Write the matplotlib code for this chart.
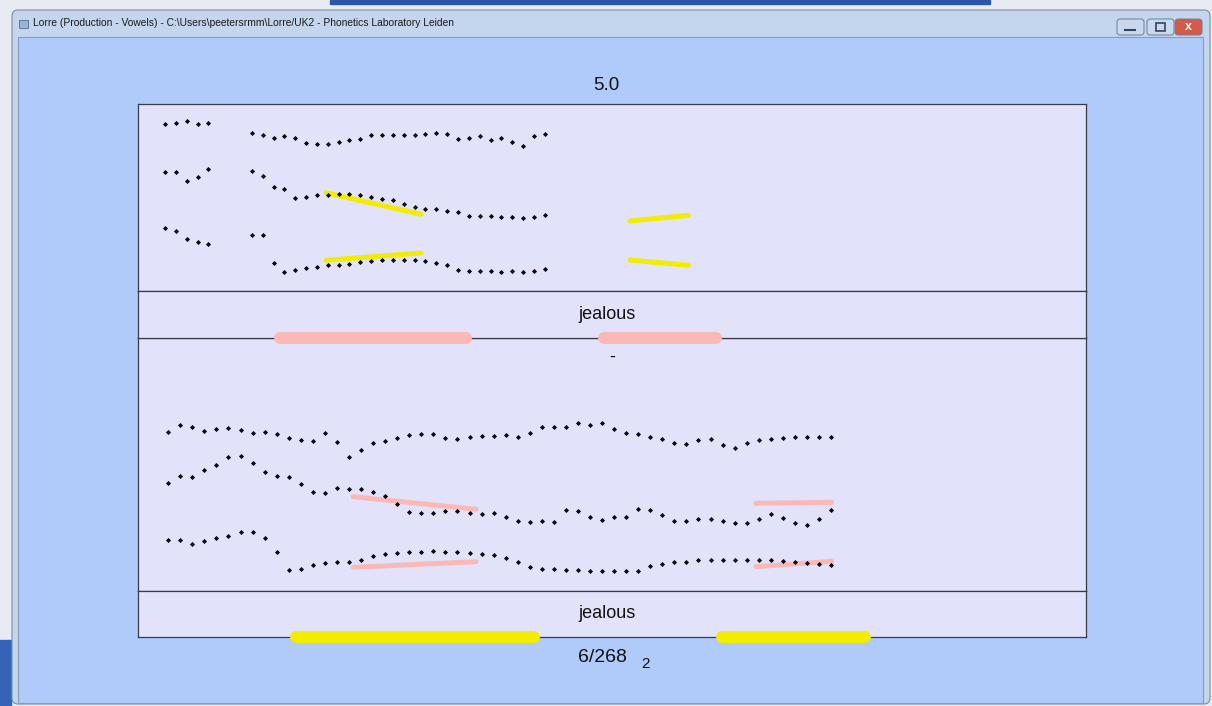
import numpy as np
import matplotlib.pyplot as plt
from matplotlib.patches import Rectangle, FancyBboxPatch

plt.rcParams['font.family'] = ['Liberation Sans', 'DejaVu Sans']

W, H = 1212, 706

# ---- formant tracks, upper panel (frame index, height in panel units) ----
top_frames = [0, 1, 2, 3, 4] + list(range(8, 36))
top_f3 = [166.7, 168.0, 169.7, 166.7, 168.0,
          158.3, 156.0, 153.3, 155.0, 153.3, 147.7, 147.0, 147.0, 149.0, 150.7,
          152.3, 155.7, 155.7, 155.7, 155.7, 156.3, 157.3, 158.3, 157.3, 152.3,
          153.3, 155.0, 150.7, 153.0, 149.3, 145.0, 155.0, 156.7]
top_f2 = [119.0, 119.0, 110.0, 114.3, 122.0,
          120.3, 115.0, 103.7, 101.7, 92.7, 93.7, 95.7, 96.0, 97.0, 96.7,
          95.7, 94.0, 92.0, 90.7, 86.7, 84.3, 82.3, 81.7, 79.7, 79.0,
          75.3, 75.0, 75.0, 74.3, 74.3, 73.3, 74.3, 75.7]
top_f1 = [62.7, 59.7, 51.7, 48.7, 47.0,
          56.0, 56.0, 28.0, 18.7, 20.7, 22.7, 24.3, 25.7, 26.3, 27.0,
          28.7, 29.7, 30.7, 31.3, 31.3, 31.3, 30.3, 28.3, 25.7, 20.7,
          20.0, 20.0, 20.0, 19.0, 20.0, 19.0, 20.0, 21.7]

# target segments (x0, x1, y0, y1)
top_targets = [(14.84, 23.6, 98.3, 76.7), (14.84, 23.6, 30.7, 38.0),
               (42.86, 48.23, 70.0, 75.7), (42.86, 48.23, 31.0, 25.7)]
top_intervals = [(10.6, 27.7), (40.5, 50.75)]

# ---- formant tracks, lower panel ----
bot_frames = list(range(56))
bot_f3 = [159.0, 166.0, 163.7, 160.0, 161.7, 162.7, 161.0, 158.3, 159.3, 156.7,
          153.0, 151.0, 150.3, 158.3, 149.3, 133.7, 140.7, 148.0, 150.3, 153.0,
          156.0, 156.7, 157.3, 153.0, 152.3, 154.0, 155.0, 155.0, 155.7, 154.0,
          158.3, 163.7, 163.7, 163.7, 168.0, 166.3, 168.0, 162.0, 158.3, 156.7,
          153.7, 152.0, 147.7, 147.0, 151.3, 152.0, 146.0, 143.3, 147.7, 150.7,
          152.3, 153.0, 154.0, 154.0, 154.0, 154.0]
bot_f2 = [108.0, 115.0, 114.0, 121.0, 126.3, 134.3, 135.3, 128.3, 118.7, 115.0,
          114.0, 107.0, 99.0, 98.0, 102.7, 101.7, 101.7, 99.0, 94.7, 86.7,
          78.7, 77.7, 77.7, 79.7, 79.7, 77.7, 77.0, 77.7, 74.3, 70.0,
          69.0, 70.0, 69.0, 80.7, 79.7, 73.7, 71.0, 73.7, 73.7, 81.7,
          80.7, 76.0, 70.0, 70.0, 72.0, 72.0, 70.0, 68.0, 68.0, 72.0,
          77.3, 72.7, 68.0, 66.0, 72.0, 80.7]
bot_f1 = [50.7, 50.7, 47.0, 49.7, 53.3, 55.0, 58.7, 58.7, 53.3, 39.0,
          21.3, 22.3, 26.0, 27.7, 28.7, 29.3, 31.3, 35.0, 36.7, 38.3,
          39.0, 39.0, 40.0, 39.0, 39.0, 38.3, 37.3, 35.7, 33.0, 28.7,
          24.3, 22.3, 22.3, 21.0, 21.0, 20.3, 19.7, 19.7, 19.7, 20.3,
          25.0, 27.0, 28.7, 29.3, 31.3, 31.3, 31.3, 31.3, 31.3, 31.3,
          31.3, 30.3, 29.3, 28.0, 27.0, 26.0]

bot_targets = [(15.35, 25.54, 94.3, 81.7), (15.35, 25.54, 23.7, 29.3),
               (48.77, 55.05, 87.7, 88.7), (48.77, 55.05, 24.3, 29.7)]
bot_intervals = [(10.6, 30.35), (45.95, 57.8)]

word = "jealous"

SCREEN = '#B0CAFA'
PANEL = '#E2E2FB'
EDGE = '#3A3A48'
YELLOW = '#F2EC00'
PINK = '#FBB9B6'


def px_axes(fig, x0, y0, x1, y1):
    return fig.add_axes([x0 / W, 1 - y1 / H, (x1 - x0) / W, (y1 - y0) / H])


def style(ax, xlim, ylim):
    ax.set_facecolor(PANEL)
    ax.set_xlim(*xlim)
    ax.set_ylim(*ylim)
    ax.set_xticks([])
    ax.set_yticks([])
    for s in ax.spines.values():
        s.set_color(EDGE)
        s.set_linewidth(0.9)


def dots(ax, frames, track):
    ax.plot(frames, track, ls='none', marker='D', ms=2.6, color='#0A0A14', mew=0)


fig = plt.figure(figsize=(W / 100, H / 100), dpi=100)

# window chrome
bg = fig.add_axes([0, 0, 1, 1])
bg.set_xlim(0, W)
bg.set_ylim(H, 0)
bg.axis('off')
bg.add_patch(Rectangle((0, 0), W, H, color='#E8ECF2'))
bg.add_patch(Rectangle((330, 0), 660, 4, color='#2E56A8'))
bg.add_patch(Rectangle((0, 640), 11, 66, color='#3563B5'))
bg.add_patch(FancyBboxPatch((12, 10), 1198, 694, boxstyle='round,pad=0,rounding_size=6',
                            fc='#C3D6EE', ec='#7C8FA8', lw=0.8))
bg.add_patch(Rectangle((18, 37), 1185, 666, fc=SCREEN, ec='#8A9BB5', lw=0.8))
bg.add_patch(Rectangle((19, 20), 9, 8, fc='#9BB4D6', ec='#4F6E99', lw=0.6))
bg.text(33, 23.5, "Lorre (Production - Vowels) - C:\\Users\\peetersrmm\\Lorre/UK2 - Phonetics Laboratory Leiden",
        fontsize=7.4, va='center', ha='left', color='#1A1A1A')
for bx, fc in [(1117, '#C9D8EC'), (1147, '#C9D8EC'), (1175, '#D65A4A')]:
    bg.add_patch(FancyBboxPatch((bx, 19), 27, 16, boxstyle='round,pad=0,rounding_size=3',
                                fc=fc, ec='#6C7E99', lw=0.7))
bg.plot([1125, 1135], [30, 30], color='#33445E', lw=1.5)
bg.add_patch(Rectangle((1156, 23), 9, 8, fc='none', ec='#33445E', lw=1.2))
bg.text(1188.5, 27, "x", fontsize=9, fontweight='bold', color='white', ha='center', va='center')

bg.text(606, 86, "5.0", fontsize=13.5, ha='center', va='center', color='#111111')
bg.text(602, 657, "6/268", fontsize=14, ha='center', va='center', color='#111111')
bg.text(645, 664, "2", fontsize=11, ha='center', va='center', color='#111111')

top_xlim = (-2.49, 84.88)
bot_xlim = (-2.51, 76.16)

# upper formant panel
ax1 = px_axes(fig, 138, 104, 1086, 291)
style(ax1, top_xlim, (0, 187))
for track in (top_f3, top_f2, top_f1):
    dots(ax1, top_frames, track)
for x0, x1, y0, y1 in top_targets:
    ax1.plot([x0, x1], [y0, y1], color=YELLOW, lw=3.6, solid_capstyle='round', zorder=1)

# lower formant panel
ax2 = px_axes(fig, 138, 338, 1086, 591)
style(ax2, bot_xlim, (0, 253))
for track in (bot_f3, bot_f2, bot_f1):
    dots(ax2, bot_frames, track)
for x0, x1, y0, y1 in bot_targets:
    ax2.plot([x0, x1], [y0, y1], color=PINK, lw=3.6, solid_capstyle='round', zorder=1)
ax2.text(0.5, 0.925, "-", transform=ax2.transAxes, fontsize=13, ha='center', va='center', color='#111111')

# upper word tier (drawn above the lower panel so its bars overlap the border)
t1 = px_axes(fig, 138, 291, 1086, 338)
style(t1, top_xlim, (0, 1))
t1.set_zorder(3)
t1.text(0.495, 0.5, word, transform=t1.transAxes, fontsize=13, ha='center', va='center', color='#111111')
for a, b in top_intervals:
    t1.plot([a, b], [0, 0], color=PINK, lw=8.6, solid_capstyle='round', clip_on=False, zorder=5)

# lower word tier
t2 = px_axes(fig, 138, 591, 1086, 637)
style(t2, bot_xlim, (0, 1))
t2.set_zorder(3)
t2.text(0.495, 0.5, word, transform=t2.transAxes, fontsize=13, ha='center', va='center', color='#111111')
for a, b in bot_intervals:
    t2.plot([a, b], [0, 0], color=YELLOW, lw=8.6, solid_capstyle='round', clip_on=False, zorder=5)

fig.savefig('out.png', dpi=100)
